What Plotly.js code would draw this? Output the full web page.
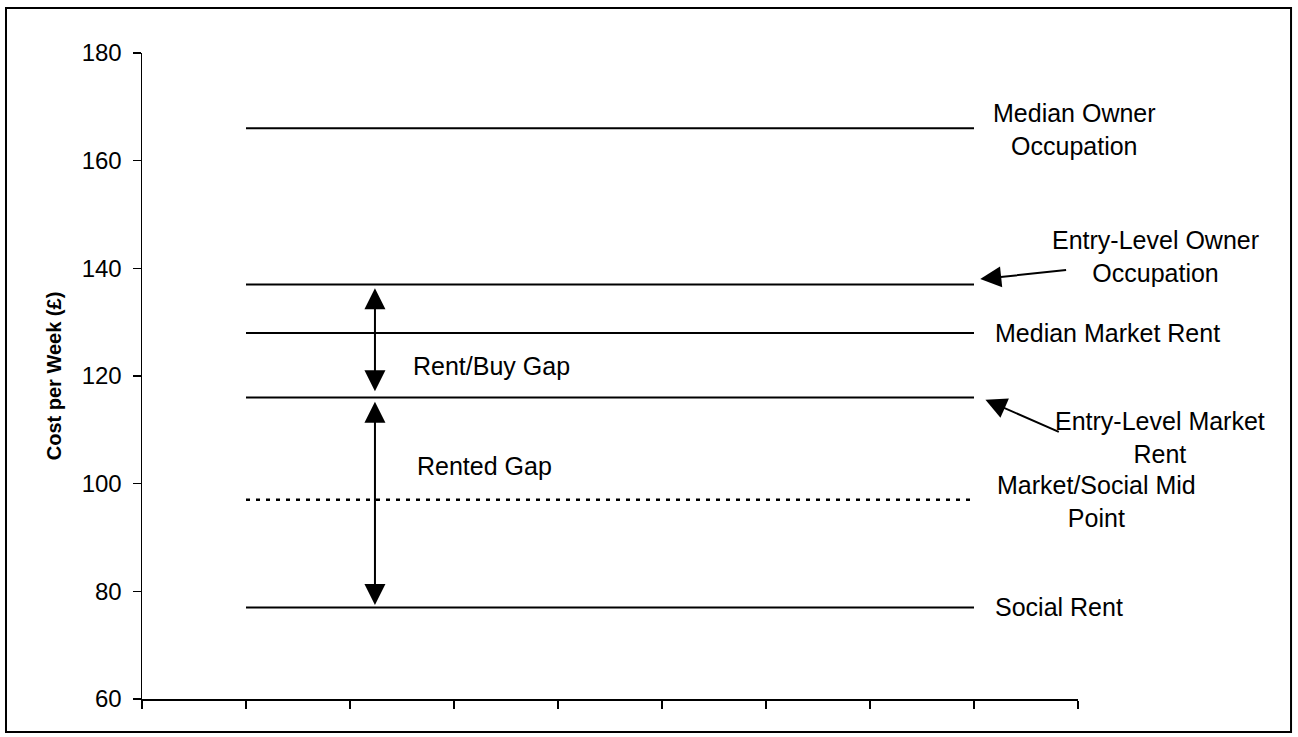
<!DOCTYPE html>
<html>
<head>
<meta charset="utf-8">
<script src="https://cdn.plot.ly/plotly-3.0.1.min.js"></script>
<style>html,body{margin:0;padding:0;background:#fff;}#chart{width:1298px;height:737px;}</style>
</head>
<body>
<div id="chart"></div>
<script>
// Category positions (x) and constant weekly costs (£) for each series
const categories = [1, 2, 3, 4, 5, 6, 7, 8];
const medianOwner = [166, 166, 166, 166, 166, 166, 166, 166];
const entryOwner = [137, 137, 137, 137, 137, 137, 137, 137];
const medianMarket = [128, 128, 128, 128, 128, 128, 128, 128];
const entryMarket = [116, 116, 116, 116, 116, 116, 116, 116];
const midPoint = [97, 97, 97, 97, 97, 97, 97, 97];
const socialRent = [77, 77, 77, 77, 77, 77, 77, 77];
const seriesNames = ["Median Owner Occupation", "Entry-Level Owner Occupation", "Median Market Rent",
  "Entry-Level Market Rent", "Market/Social Mid Point", "Social Rent"];
const yTicks = [60, 80, 100, 120, 140, 160, 180];

const FONT = "Arial, 'Liberation Sans', sans-serif";
const seriesVals = [medianOwner, entryOwner, medianMarket, entryMarket, midPoint, socialRent];
const traces = seriesVals.map((v, i) => ({
  type: "scatter", mode: "lines", x: categories, y: v, name: seriesNames[i],
  line: {color: "#000", width: i === 4 ? 2.5 : 2, dash: i === 4 ? "4px,6px" : "solid"},
  showlegend: false, hoverinfo: "y"
}));

const ann = (text, x, y, xanchor, ref) => ({text, x, y, xref: ref ? "paper" : "x", yref: ref ? "paper" : "y", showarrow: false,
  xanchor: xanchor || "center", yanchor: "middle", font: {family: FONT, size: 25, color: "#000"}});

const arrowX = 2.24;
const headStyle = {showarrow: true, arrowhead: 2, arrowsize: 2.1, arrowwidth: 2, arrowcolor: "#000",
  xref: "x", yref: "y", axref: "x", ayref: "y", text: ""};
const annotations = [
  ann("Median Owner<br>Occupation", 8.97, 165.7),
  ann("Entry-Level Owner<br>Occupation", 1.0823, 0.6845, "center", true),
  ann("Median Market Rent", 8.18, medianMarket[0], "left"),
  ann("Entry-Level Market<br>Rent", 1.0881, 0.4043, "center", true),
  ann("Market/Social Mid<br>Point", 1.0200, 0.3054, "center", true),
  ann("Social Rent", 8.18, socialRent[0], "left"),
  ann("Rent/Buy Gap", 2.59, 121.9, "left"),
  ann("Rented Gap", 2.625, 103.2, "left"),
  // double arrows for gaps
  Object.assign({x: arrowX, y: entryOwner[0] - 0.7, ax: arrowX, ay: entryMarket[0] + 0.9,
    arrowside: "end+start", startarrowhead: 2, startarrowsize: 2.1}, headStyle),
  Object.assign({x: arrowX, y: entryMarket[0] - 0.8, ax: arrowX, ay: socialRent[0] + 0.2,
    arrowside: "end+start", startarrowhead: 2, startarrowsize: 2.1}, headStyle),
  // pointer arrows
  Object.assign({x: 8.06, y: 138.0, ax: 8.90, ay: 139.7}, headStyle),
  Object.assign({x: 8.11, y: 115.6, ax: 8.83, ay: 109.5}, headStyle)
];

const layout = {
  width: 1298, height: 737,
  margin: {l: 142, r: 220, t: 53, b: 38, pad: 0},
  paper_bgcolor: "#fff", plot_bgcolor: "#fff",
  font: {family: FONT, color: "#000"},
  showlegend: false,
  xaxis: {range: [0, 9], tickvals: [0,1,2,3,4,5,6,7,8,9], showticklabels: false, ticks: "outside", ticklen: 8,
    tickwidth: 1.5, tickcolor: "#000", showline: true, linecolor: "#000", linewidth: 1.5, showgrid: false, zeroline: false, fixedrange: true},
  yaxis: {range: [60, 180], tickvals: yTicks, ticktext: yTicks.map(String), ticks: "outside", ticklen: 8, tickwidth: 1.5,
    tickcolor: "#000", showline: true, linecolor: "#000", linewidth: 1.5, showgrid: false, zeroline: false,
    ticklabelstandoff: 6,
    tickfont: {family: FONT, size: 24, color: "#000"},
    title: {text: "<b>Cost per Week (£)</b>", font: {family: FONT, size: 20, color: "#000"}, standoff: 14}, fixedrange: true},
  annotations: annotations,
  shapes: [{type: "rect", xref: "paper", yref: "paper", x0: -0.1453, x1: 1.2276, y0: -0.0511, y1: 1.0697,
    line: {color: "#000", width: 2}, fillcolor: "rgba(0,0,0,0)", layer: "below"}]
};

Plotly.newPlot("chart", traces, layout, {displayModeBar: false, staticPlot: true});
</script>
</body>
</html>
